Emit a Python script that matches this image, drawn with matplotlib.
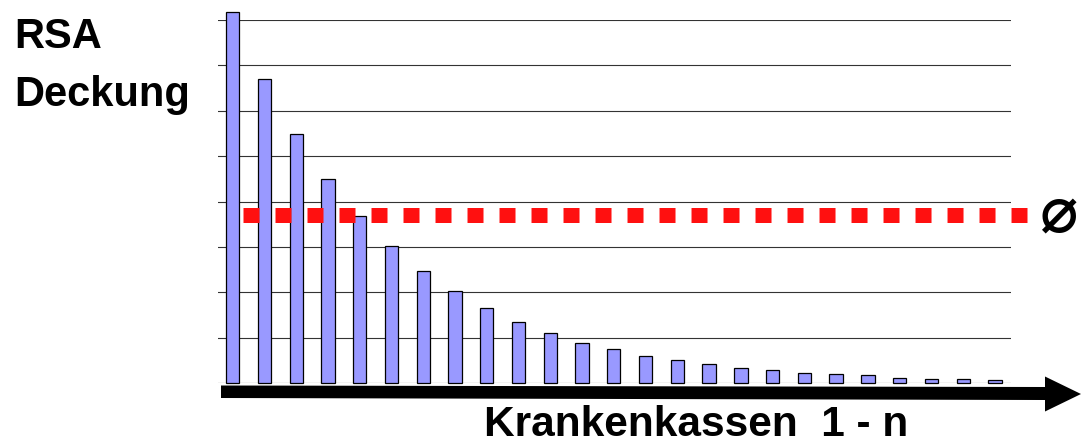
import matplotlib
matplotlib.use("Agg")
import matplotlib.pyplot as plt
from matplotlib.patches import Polygon
import numpy as np

# RSA coverage per sickness fund, sorted descending
coverage = [8.18, 6.69, 5.49, 4.49, 3.68, 3.01, 2.46, 2.02, 1.65, 1.35,
            1.10, 0.89, 0.74, 0.60, 0.51, 0.42, 0.32, 0.28, 0.23, 0.19,
            0.17, 0.12, 0.09, 0.09, 0.07]
average = 3.7
grid_levels = [1, 2, 3, 4, 5, 6, 7, 8]
y_label_lines = ["RSA", "Deckung"]
x_label = "Krankenkassen  1 - n"
avg_symbol = "⌀"

W, H = 1083, 446
fig = plt.figure(figsize=(W / 100, H / 100), dpi=100)
plt.rcParams["font.family"] = ["Liberation Sans", "DejaVu Sans"]


def fx(px):
    return px / W


def fy(py):
    return 1 - py / H


ax = fig.add_axes([fx(218), fy(383), fx(1011) - fx(218), fy(20) - fy(383)])
x = np.arange(len(coverage))
ax.set_xlim(-0.463, len(coverage) - 0.494)
ax.set_ylim(0, max(grid_levels))
ax.set_axis_off()

for lvl in grid_levels:
    ax.axhline(lvl, color="#333333", lw=0.8, zorder=1)
ax.axhline(0, color="#c0c0c0", lw=1.0, zorder=1)

ax.bar(x, coverage, width=0.42, color="#9999ff", edgecolor="black",
       linewidth=0.9, zorder=2, clip_on=False)

# dotted average line made of square dashes
ax.plot([0.32, len(coverage)], [average, average], color="#ff1010",
        lw=10.8, linestyle=(0, (1.0667, 1.0667)), dash_capstyle="butt",
        zorder=3, clip_on=False)

fig.text(fx(1040), fy(214), avg_symbol, fontsize=46, fontweight="bold",
         family="DejaVu Sans", ha="left", va="center")

# horizontal axis arrow
arrow = [(221, 385.5), (1045, 387), (1045, 376.5), (1081, 394),
         (1045, 411.5), (1045, 400), (221, 398)]
fig.add_artist(Polygon([(fx(a), fy(b)) for a, b in arrow], closed=True,
                       transform=fig.transFigure, facecolor="black",
                       edgecolor="none"))

fig.text(fx(14), fy(48), y_label_lines[0], fontsize=30, fontweight="bold",
         ha="left", va="baseline")
fig.text(fx(14), fy(106), y_label_lines[1], fontsize=30, fontweight="bold",
         ha="left", va="baseline")
fig.text(fx(484), fy(445.5), x_label, fontsize=30.5, fontweight="bold",
         ha="left", va="bottom")

fig.savefig("out.png", dpi=100, facecolor="white")
